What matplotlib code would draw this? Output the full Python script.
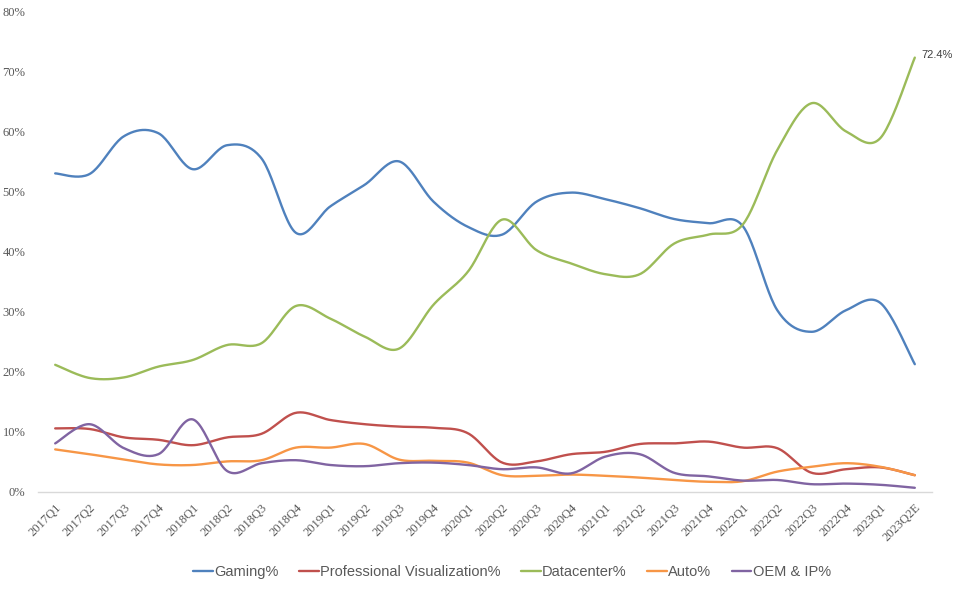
import numpy as np
import matplotlib
matplotlib.use("Agg")
import matplotlib.pyplot as plt
from matplotlib.ticker import FuncFormatter

quarters = ["2017Q1", "2017Q2", "2017Q3", "2017Q4", "2018Q1", "2018Q2", "2018Q3", "2018Q4",
            "2019Q1", "2019Q2", "2019Q3", "2019Q4", "2020Q1", "2020Q2", "2020Q3", "2020Q4",
            "2021Q1", "2021Q2", "2021Q3", "2021Q4", "2022Q1", "2022Q2", "2022Q3", "2022Q4",
            "2023Q1", "2023Q2E"]

gaming = [53.1, 53.0, 59.3, 59.8, 53.8, 57.8, 55.6, 43.2, 47.6, 51.2, 55.1, 48.4, 44.2,
          42.9, 48.4, 49.9, 48.8, 47.3, 45.5, 44.8, 44.3, 30.3, 26.7, 30.3, 31.5, 21.3]
proviz = [10.6, 10.5, 9.1, 8.7, 7.8, 9.1, 9.7, 13.2, 12.0, 11.3, 10.9, 10.7, 9.8,
          4.9, 5.1, 6.3, 6.7, 8.0, 8.1, 8.4, 7.4, 7.3, 3.2, 3.8, 4.1, 2.8]
datacenter = [21.2, 19.0, 19.1, 20.9, 22.0, 24.5, 24.8, 31.0, 28.9, 25.9, 23.9, 31.2, 36.7,
              45.4, 40.3, 38.1, 36.3, 36.3, 41.4, 42.9, 44.6, 57.0, 64.8, 60.1, 59.0, 72.4]
auto = [7.1, 6.3, 5.4, 4.6, 4.5, 5.1, 5.3, 7.4, 7.4, 8.0, 5.4, 5.2, 4.9,
        2.8, 2.7, 2.9, 2.7, 2.4, 2.0, 1.7, 1.8, 3.4, 4.2, 4.8, 4.2, 2.8]
oem = [8.1, 11.3, 7.3, 6.3, 12.1, 3.5, 4.8, 5.3, 4.5, 4.3, 4.8, 4.9, 4.5,
       3.8, 4.1, 3.1, 5.9, 6.3, 3.2, 2.6, 1.9, 2.0, 1.3, 1.4, 1.2, 0.7]

series_names = ["Gaming%", "Professional Visualization%", "Datacenter%", "Auto%", "OEM & IP%"]
colors = ["#4F81BD", "#C0504D", "#9BBB59", "#F79646", "#8064A2"]


def smooth(xs, ys, n=24, tension=0.5):
    xs = np.asarray(xs, float)
    ys = np.asarray(ys, float)
    px = np.concatenate([[xs[0]], xs, [xs[-1]]])
    py = np.concatenate([[ys[0]], ys, [ys[-1]]])
    outx, outy = [], []
    for i in range(1, len(px) - 2):
        t = np.linspace(0, 1, n, endpoint=False)
        for arr, out in ((px, outx), (py, outy)):
            p0, p1, p2, p3 = arr[i - 1], arr[i], arr[i + 1], arr[i + 2]
            m1 = tension * (p2 - p0)
            m2 = tension * (p3 - p1)
            h00 = 2 * t**3 - 3 * t**2 + 1
            h10 = t**3 - 2 * t**2 + t
            h01 = -2 * t**3 + 3 * t**2
            h11 = t**3 - t**2
            out.extend(h00 * p1 + h10 * m1 + h01 * p2 + h11 * m2)
    outx.append(xs[-1])
    outy.append(ys[-1])
    return np.array(outx), np.array(outy)


fig = plt.figure(figsize=(9.54, 5.94), dpi=100)
ax = fig.add_axes([38 / 954, 1 - 492 / 594, 894 / 954, 480 / 594])

x = np.arange(len(quarters))
data = [gaming, proviz, datacenter, auto, oem]
for name, vals, c in zip(series_names, data, colors):
    sx, sy = smooth(x, vals)
    ax.plot(sx, sy, color=c, lw=1.7, label=name, solid_capstyle="round")

ax.set_xlim(-0.5, len(quarters) - 0.5)
ax.set_ylim(0, 80)
ax.set_yticks(np.arange(0, 81, 10))
ax.yaxis.set_major_formatter(FuncFormatter(lambda v, p: f"{int(v)}%"))
ax.set_xticks(x)
ax.set_xticklabels(quarters, rotation=45, ha="right", rotation_mode="anchor")

for s in ["top", "right", "left"]:
    ax.spines[s].set_visible(False)
ax.spines["bottom"].set_color("#D9D9D9")
ax.spines["bottom"].set_linewidth(1.0)
ax.tick_params(axis="both", length=0, labelcolor="#595959", labelsize=9,
               labelfontfamily="Liberation Serif")
ax.tick_params(axis="y", pad=9)
ax.tick_params(axis="x", pad=7)

ax.annotate(f"{datacenter[-1]:.1f}%", xy=(x[-1], datacenter[-1]), xytext=(5, 2),
            textcoords="offset points", fontsize=8, color="#404040",
            fontfamily="Liberation Sans", va="center", ha="left")

leg = fig.legend(loc="center", bbox_to_anchor=(512 / 954, 1 - 572 / 594), ncol=5,
                 frameon=False, handlelength=1.35, handletextpad=0.1, columnspacing=1.4,
                 prop={"family": "Liberation Sans", "size": 10.5})
for t in leg.get_texts():
    t.set_color("#595959")

fig.savefig("out.png", dpi=100)
